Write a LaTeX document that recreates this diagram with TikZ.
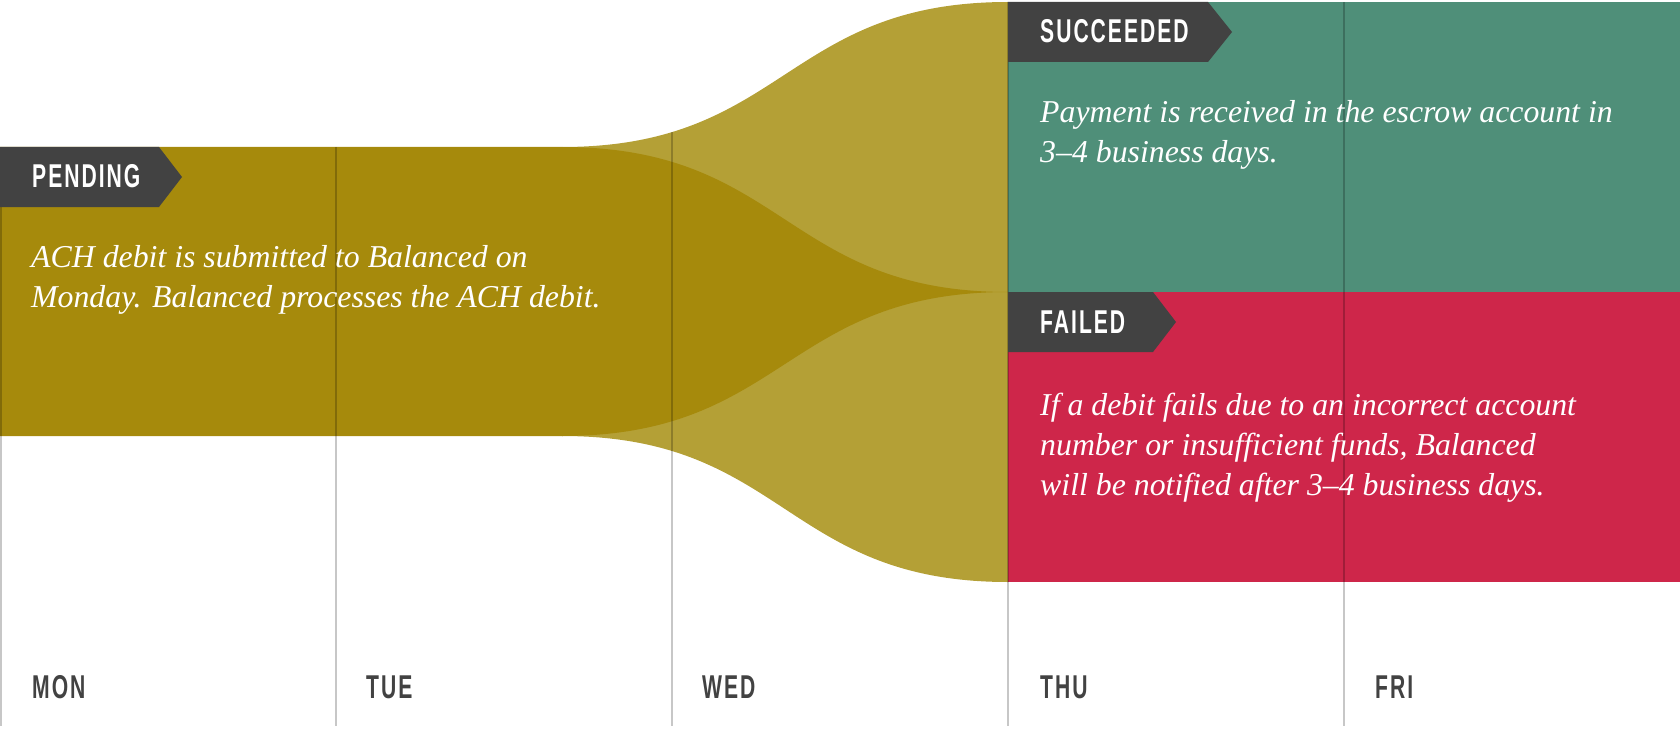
\documentclass[tikz,border=0pt]{standalone}
\usepackage{fontspec}
\setmainfont{Liberation Serif}
\newfontfamily\tagfont{Liberation Sans Bold}[FakeStretch=0.64,LetterSpace=6]
\definecolor{golddark}{HTML}{A68A0C}
\definecolor{goldlight}{HTML}{B4A036}
\definecolor{okgreen}{HTML}{4F8F79}
\definecolor{failred}{HTML}{CE264A}
\definecolor{tagdark}{HTML}{424242}
\begin{document}
\begin{tikzpicture}[x=1pt,y=-1pt,
  tagtext/.style={font=\tagfont\fontsize{33pt}{33pt}\selectfont, text=white, anchor=base west, inner sep=0pt},
  daytext/.style={tagtext, text=tagdark},
  bodytext/.style={font=\itshape\fontsize{31.8pt}{40pt}\selectfont, text=white, anchor=base west, inner sep=0pt, align=left},
  gridline/.style={line width=1.5pt, draw=black, draw opacity=0.22}]
\useasboundingbox (0,0) rectangle (1680,730);

% the two branches leaving the pending band
\fill[goldlight] (562,147) .. controls (785,147) and (785,2) .. (1008,2)
  -- (1008,292) .. controls (785,292) and (785,436) .. (562,436) -- cycle;
\fill[goldlight] (562,147) .. controls (785,147) and (785,292) .. (1008,292)
  -- (1008,582) .. controls (785,582) and (785,436) .. (562,436) -- cycle;
% pending band with the shared wedge of both branches
\fill[golddark] (0,147) -- (562,147) .. controls (785,147) and (785,292) .. (1008,292)
  .. controls (785,292) and (785,436) .. (562,436) -- (0,436) -- cycle;

% outcome panels
\fill[okgreen] (1008,2) rectangle (1680,292);
\fill[failred] (1008,292) rectangle (1680,582);

% day grid
\coordinate (mon-top) at (0.75,147);
\coordinate (tue-top) at (336,147);
\coordinate (wed-top) at (672,132.1);
\coordinate (thu-top) at (1008,2);
\coordinate (fri-top) at (1344,2);
\foreach \d/\x in {mon/0.75,tue/336,wed/672,thu/1008,fri/1344}
  \coordinate (\d-bot) at (\x,726);
\foreach \d in {mon,tue,wed,thu,fri}
  \draw[gridline] (\d-top) -- (\d-bot);

% state tags
\fill[tagdark] (0,147) -- (159,147) -- (182,177) -- (159,207) -- (0,207) -- cycle;
\fill[tagdark] (1008,2) -- (1208,2) -- (1232,32) -- (1208,62) -- (1008,62) -- cycle;
\fill[tagdark] (1008,292) -- (1153,292) -- (1176,322) -- (1153,352) -- (1008,352) -- cycle;
\node[tagtext] (pending) at (32,188) {PENDING};
\node[tagtext] (succeeded) at (1040,43) {SUCCEEDED};
\node[tagtext] (failed) at (1040,333) {FAILED};

% descriptions (anchored at the baseline of their last line)
\node[bodytext] (pendingtxt) at (31,307)
  {ACH debit is submitted to Balanced on\\Monday. Balanced processes the ACH debit.};
\node[bodytext] (succeededtxt) at (1040,163)
  {Payment is received in the escrow account in\\3–4 business days.};
\node[bodytext] (failedtxt) at (1040,495)
  {If a debit fails due to an incorrect account\\number or insufficient funds, Balanced\\will be notified after 3–4 business days.};

% day labels
\node[daytext] (mon) at (32,698) {MON};
\node[daytext] (tue) at (366,698) {TUE};
\node[daytext] (wed) at (702,698) {WED};
\node[daytext] (thu) at (1040,698) {THU};
\node[daytext] (fri) at (1375,698) {FRI};
\end{tikzpicture}
\end{document}
